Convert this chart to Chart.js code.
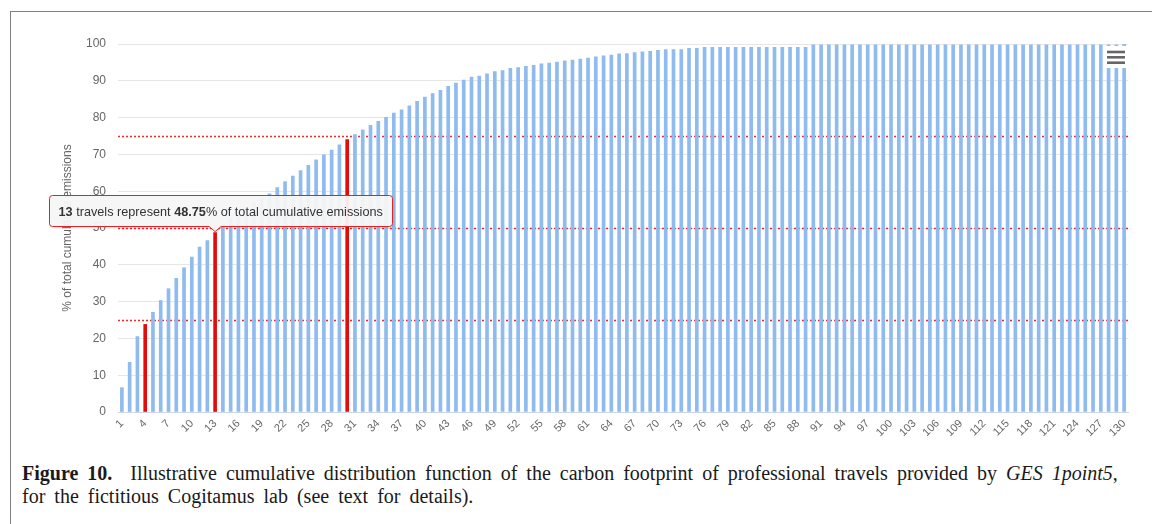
<!DOCTYPE html>
<html>
<head>
<meta charset="utf-8">
<script src="https://cdn.jsdelivr.net/npm/chart.js@4.4.0/dist/chart.umd.min.js"></script>
<style>
html, body { margin: 0; padding: 0; background: #fff; width: 1152px; height: 524px; overflow: hidden; }
#frame { position: absolute; left: 10px; top: 11px; width: 1300px; height: 700px; border-left: 1px solid #808080; border-top: 1px solid #808080; }
#wrap { position: absolute; left: 11px; top: 12px; width: 1141px; height: 440px; }
#caption { position: absolute; left: 22px; top: 462px; width: 1125px; font-family: "Liberation Serif", "DejaVu Serif", serif; font-size: 20px; line-height: 22.5px; word-spacing: 4px; color: #1a1a1a; white-space: nowrap; }
</style>
</head>
<body>
<div id="frame"></div>
<div id="wrap"><canvas id="cdf"></canvas></div>
<div id="caption"><b>Figure 10.</b>&nbsp;&nbsp;Illustrative cumulative distribution function of the carbon footprint of professional travels provided by <i>GES 1point5</i>,<br>for the fictitious Cogitamus lab (see text for details).</div>
<script>
// cumulative share of emissions (%) for travels ranked 1..130
var cumulative = [
  6.6, 13.5, 20.5, 23.8, 27.1, 30.3, 33.5, 36.3, 39.2, 42.1,
  44.8, 46.6, 48.75, 51.0, 52.6, 54.1, 55.6, 56.9, 58.2, 59.3,
  61.0, 62.6, 64.1, 65.6, 67.0, 68.5, 69.9, 71.2, 72.6, 74.0,
  75.4, 76.7, 77.9, 79.0, 80.1, 81.2, 82.1, 83.2, 84.4, 85.6,
  86.5, 87.4, 88.5, 89.4, 90.2, 91.0, 91.3, 91.9, 92.5, 92.8,
  93.4, 93.6, 93.9, 94.2, 94.6, 94.8, 95.1, 95.4, 95.6, 95.9,
  96.2, 96.5, 96.8, 97.0, 97.3, 97.4, 97.7, 97.9, 98.0, 98.3,
  98.5, 98.5, 98.5, 98.8, 98.8, 99.1, 99.1, 99.1, 99.1, 99.1,
  99.1, 99.1, 99.1, 99.1, 99.1, 99.1, 99.1, 99.1, 99.1, 99.8,
  99.8, 99.8, 99.8, 99.8, 99.8, 99.8, 99.8, 99.8, 99.8, 99.8,
  99.8, 99.8, 99.8, 99.8, 99.8, 99.8, 99.8, 99.8, 99.8, 99.8,
  99.8, 99.8, 99.8, 99.8, 99.8, 99.8, 99.8, 99.8, 99.8, 99.8,
  99.8, 99.8, 99.8, 99.8, 99.8, 99.8, 99.8, 99.8, 99.8, 100
];
var travels = [];
for (var n = 1; n <= cumulative.length; n++) travels.push(String(n));

var highlighted = [4, 13, 30];     // travels reaching 25 / 50 / 75 %
var thresholds = [25, 50, 75];
var tipTravel = 13;
var yTicks = [0, 10, 20, 30, 40, 50, 60, 70, 80, 90, 100];

var blue = "#8fbbee";
var red = "#e40b0b";
var colors = travels.map(function (t) {
  return highlighted.indexOf(Number(t)) >= 0 ? red : blue;
});

// dashed red threshold lines
var thresholdLines = {
  id: "thresholdLines",
  beforeDatasetsDraw: function (chart) {
    var ctx = chart.ctx, area = chart.chartArea, y = chart.scales.y;
    ctx.save();
    ctx.strokeStyle = "rgba(235,20,20,0.9)";
    ctx.lineWidth = 1.5;
    ctx.setLineDash([2, 2]);
    thresholds.forEach(function (v) {
      var py = Math.round(y.getPixelForValue(v)) + 0.5;
      ctx.beginPath();
      ctx.moveTo(area.left, py);
      ctx.lineTo(area.right, py);
      ctx.stroke();
    });
    ctx.restore();
  }
};

// fixed tooltip on the 50 % travel + export button
var staticTip = {
  id: "staticTip",
  afterDraw: function (chart) {
    var ctx = chart.ctx, area = chart.chartArea;
    var i = tipTravel - 1;
    var px = chart.scales.x.getPixelForValue(i);
    var py = chart.scales.y.getPixelForValue(cumulative[i]);
    var parts = [
      [String(tipTravel), true],
      [" travels represent ", false],
      [cumulative[i].toFixed(2), true],
      ["% of total cumulative emissions", false]
    ];
    var fam = '"Liberation Sans", Arial, sans-serif';
    var fs = "12.7px ";
    var w = 0;
    parts.forEach(function (p) {
      ctx.font = (p[1] ? "bold " : "") + fs + fam;
      p.push(ctx.measureText(p[0]).width);
      w += p[2];
    });
    var bw = Math.round(w + 19), bh = 31;
    var tipY = py - 1, bottom = tipY - 6, top = bottom - bh;
    var left = Math.round(px - bw / 2 + 5) + 0.5;
    top = Math.round(top) + 0.5; bottom = top + bh;
    ctx.save();
    ctx.shadowColor = "rgba(0,0,0,0.12)";
    ctx.shadowOffsetX = 1; ctx.shadowOffsetY = 1; ctx.shadowBlur = 3;
    ctx.beginPath();
    var r = 3;
    ctx.moveTo(left + r, top);
    ctx.lineTo(left + bw - r, top);
    ctx.arcTo(left + bw, top, left + bw, top + r, r);
    ctx.lineTo(left + bw, bottom - r);
    ctx.arcTo(left + bw, bottom, left + bw - r, bottom, r);
    ctx.lineTo(px + 6, bottom);
    ctx.lineTo(px, tipY);
    ctx.lineTo(px - 6, bottom);
    ctx.lineTo(left + r, bottom);
    ctx.arcTo(left, bottom, left, bottom - r, r);
    ctx.lineTo(left, top + r);
    ctx.arcTo(left, top, left + r, top, r);
    ctx.closePath();
    ctx.fillStyle = "rgba(247,247,247,0.95)";
    ctx.fill();
    ctx.shadowColor = "transparent";
    ctx.strokeStyle = "#e02424";
    ctx.lineWidth = 1;
    ctx.stroke();
    ctx.fillStyle = "#333";
    ctx.textBaseline = "middle";
    var tx = left + 9;
    parts.forEach(function (p) {
      ctx.font = (p[1] ? "bold " : "") + fs + fam;
      ctx.fillText(p[0], tx, top + bh / 2 + 1);
      tx += p[2];
    });

    // export menu button
    ctx.fillStyle = "#fff";
    ctx.fillRect(area.right - 24, area.top + 2, 24, 22);
    ctx.strokeStyle = "#666";
    ctx.lineWidth = 2.6;
    [8, 13.3, 18.7].forEach(function (dy) {
      ctx.beginPath();
      ctx.moveTo(area.right - 21, area.top + dy);
      ctx.lineTo(area.right - 3, area.top + dy);
      ctx.stroke();
    });
    ctx.restore();
  }
};

var ctx = document.getElementById("cdf").getContext("2d");
var cdfChart = new Chart(ctx, {
  type: "bar",
  data: {
    labels: travels,
    datasets: [{
      label: "% of total cumulative emissions",
      data: cumulative,
      backgroundColor: colors,
      barThickness: 3
    }]
  },
  options: {
    responsive: true,
    maintainAspectRatio: false,
    animation: false,
    layout: { padding: { left: 45, right: 24, top: 32, bottom: 4 } },
    plugins: { legend: { display: false }, tooltip: { enabled: false } },
    scales: {
      x: {
        grid: { display: true, color: "rgba(0,0,0,0)", drawTicks: false },
        border: { display: true, color: "#ccd6eb", width: 1 },
        ticks: {
          autoSkip: false,
          minRotation: 45,
          maxRotation: 45,
          padding: 5,
          color: "#666",
          font: { family: '"Liberation Sans", Arial, sans-serif', size: 11 },
          callback: function (v, i) { return i % 3 === 0 ? travels[i] : ""; }
        },
        afterFit: function (s) { s.height = 36; }
      },
      y: {
        min: 0,
        max: 100,
        afterBuildTicks: function (s) { s.ticks = yTicks.map(function (v) { return { value: v }; }); },
        grid: { color: "#e6e6e6", drawTicks: false },
        border: { display: false },
        ticks: {
          padding: 12,
          color: "#666",
          font: { family: '"Liberation Sans", Arial, sans-serif', size: 12 }
        },
        title: {
          display: true,
          text: "% of total cumulative emissions",
          color: "#666",
          font: { family: '"Liberation Sans", Arial, sans-serif', size: 12 }
        },
        afterFit: function (s) { s.width = 62; }
      }
    }
  },
  plugins: [thresholdLines, staticTip]
});
</script>
</body>
</html>
